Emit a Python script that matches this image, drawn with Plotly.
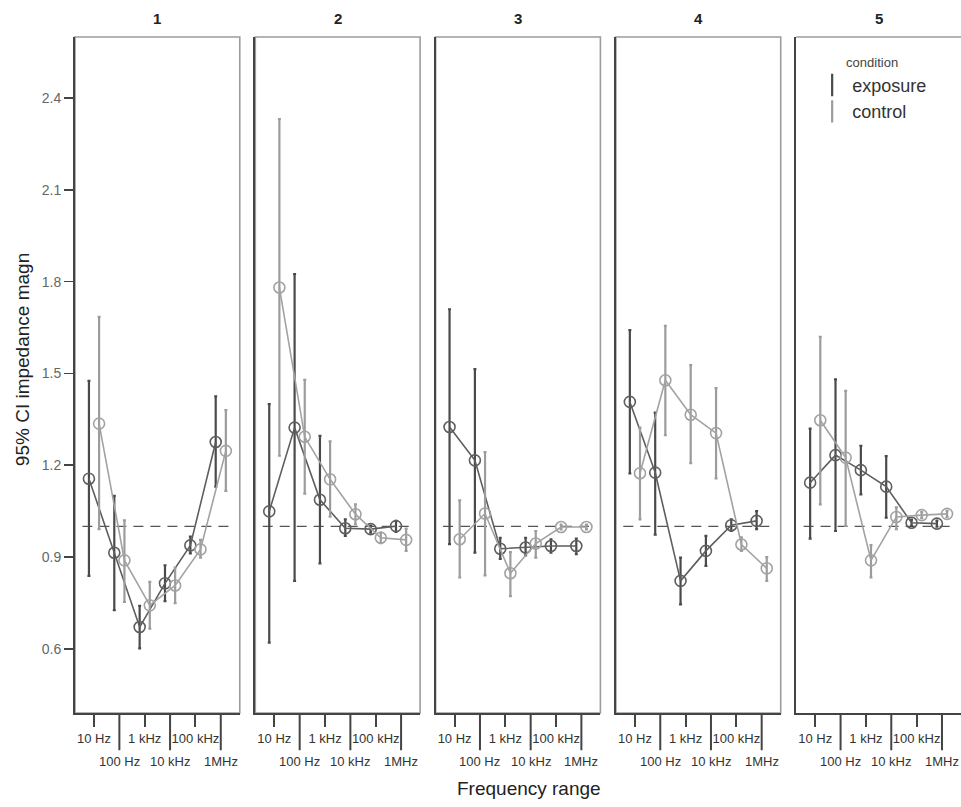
import plotly.graph_objects as go

# ---------------- data ----------------
categories = ["10 Hz", "100 Hz", "1 kHz", "10 kHz", "100 kHz", "1MHz"]
panel_titles = ["1", "2", "3", "4", "5"]
conditions = ["exposure", "control"]
y_ticks = [0.6, 0.9, 1.2, 1.5, 1.8, 2.1, 2.4]
reference_value = 1.0

exposure_mean = [
    [1.156, 0.914, 0.671, 0.814, 0.938, 1.276],
    [1.049, 1.323, 1.087, 0.994, 0.991, 1.001],
    [1.325, 1.216, 0.927, 0.931, 0.936, 0.936],
    [1.407, 1.176, 0.822, 0.920, 1.004, 1.018],
    [1.143, 1.233, 1.184, 1.130, 1.012, 1.009],
]
exposure_low = [
    [0.838, 0.726, 0.601, 0.756, 0.912, 1.130],
    [0.620, 0.822, 0.879, 0.969, 0.980, 0.982],
    [0.942, 0.914, 0.894, 0.905, 0.914, 0.909],
    [1.173, 0.973, 0.745, 0.871, 0.985, 0.991],
    [0.960, 0.985, 1.105, 1.029, 1.002, 0.999],
]
exposure_high = [
    [1.476, 1.100, 0.740, 0.873, 0.967, 1.425],
    [1.400, 1.825, 1.296, 1.023, 1.002, 1.018],
    [1.710, 1.514, 0.963, 0.963, 0.958, 0.960],
    [1.642, 1.372, 0.898, 0.969, 1.023, 1.050],
    [1.320, 1.481, 1.263, 1.230, 1.022, 1.019],
]
control_mean = [
    [1.336, 0.889, 0.742, 0.807, 0.925, 1.247],
    [1.781, 1.293, 1.154, 1.040, 0.963, 0.956],
    [0.958, 1.042, 0.847, 0.944, 0.998, 0.998],
    [1.174, 1.478, 1.365, 1.305, 0.941, 0.863],
    [1.347, 1.225, 0.889, 1.031, 1.037, 1.041],
]
control_low = [
    [0.991, 0.753, 0.666, 0.749, 0.898, 1.116],
    [1.231, 1.107, 1.032, 1.007, 0.945, 0.920],
    [0.833, 0.840, 0.772, 0.898, 0.990, 0.990],
    [1.023, 1.298, 1.207, 1.157, 0.920, 0.822],
    [1.072, 1.002, 0.833, 0.991, 1.027, 1.031],
]
control_high = [
    [1.685, 1.020, 0.819, 0.865, 0.956, 1.380],
    [2.332, 1.479, 1.278, 1.072, 0.980, 0.993],
    [1.085, 1.243, 0.916, 0.985, 1.006, 1.006],
    [1.323, 1.656, 1.527, 1.452, 0.964, 0.900],
    [1.620, 1.443, 0.939, 1.062, 1.047, 1.051],
]

# ---------------- style ----------------
EXP_COLOR = "#5e5e5e"
EXP_BAR = "#4a4a4a"
CTL_COLOR = "#a2a2a2"
CTL_BAR = "#9c9c9c"
AXIS_COLOR = "#444444"
FRAME_COLOR = "#9c9c9c"
FONT = "Liberation Sans, Arial, sans-serif"

PANEL_W = 0.186
PANEL_GAP = 0.0175

fig = go.Figure()

layout_axes = {}
shapes = []
annotations = []

series = [
    ("exposure", exposure_mean, exposure_low, exposure_high, EXP_COLOR, EXP_BAR),
    ("control", control_mean, control_low, control_high, CTL_COLOR, CTL_BAR),
]

for i in range(len(panel_titles)):
    n = "" if i == 0 else str(i + 1)
    xa, ya = f"x{n}", f"y{n}"
    d0 = i * (PANEL_W + PANEL_GAP)
    d1 = min(1.0, d0 + PANEL_W)

    for name, mean, low, high, col, barcol in series:
        m = mean[i]
        plus = [h - v for h, v in zip(high[i], m)]
        minus = [v - l for v, l in zip(m, low[i])]
        fig.add_trace(go.Scatter(
            x=categories, y=m, xaxis=xa, yaxis=ya,
            mode="lines+markers", name=name, showlegend=False,
            offsetgroup=name, alignmentgroup="g",
            line=dict(color=col, width=1.6),
            marker=dict(symbol="circle-open", size=11, color=col,
                        line=dict(width=1.6, color=col)),
            error_y=dict(type="data", array=plus, arrayminus=minus,
                         symmetric=False, color=barcol, thickness=2.2, width=1.5),
            hoverinfo="skip",
        ))

    layout_axes[f"xaxis{n}"] = dict(
        domain=[d0, d1], anchor=ya, type="category",
        categoryorder="array", categoryarray=categories,
        range=[-0.75, 5.75],
        tickmode="array", tickvals=categories[0::2], ticktext=categories[0::2],
        ticks="outside", ticklen=12, tickwidth=2, tickcolor=AXIS_COLOR,
        showline=True, linecolor=AXIS_COLOR, linewidth=2,
        showgrid=False, zeroline=False,
        tickfont=dict(size=13, color="#333333", family=FONT),
    )
    layout_axes[f"yaxis{n}"] = dict(
        domain=[0, 1], anchor=xa, range=[0.39, 2.6],
        tickmode="array", tickvals=y_ticks, ticktext=[f"{v:.1f}" for v in y_ticks],
        ticks="outside" if i == 0 else "", ticklen=9, tickwidth=1.5, tickcolor=AXIS_COLOR,
        showticklabels=(i == 0),
        showline=True, linecolor=AXIS_COLOR, linewidth=2,
        showgrid=False, zeroline=False,
        tickfont=dict(size=14, color="#666666", family=FONT),
    )

    # panel frame (light grey top/right)
    if i < len(panel_titles) - 1:
        shapes.append(dict(type="rect", xref=f"{xa} domain", yref=f"{ya} domain",
                           x0=0, x1=1, y0=0, y1=1, layer="below",
                           line=dict(color=FRAME_COLOR, width=1.6)))
    else:
        shapes.append(dict(type="line", xref=f"{xa} domain", yref=f"{ya} domain",
                           x0=0, x1=1, y0=1, y1=1, layer="below",
                           line=dict(color=FRAME_COLOR, width=1.6)))

    # reference dashed line
    shapes.append(dict(type="line", xref=f"{xa} domain", yref=ya,
                       x0=0.045, x1=0.955, y0=reference_value, y1=reference_value,
                       layer="below", line=dict(color="#555555", width=1.2, dash="10px,7px")))

    # long ticks + second-row labels
    for c in categories[1::2]:
        shapes.append(dict(type="line", xref=xa, yref=f"{ya} domain",
                           x0=c, x1=c, y0=0, y1=-0.055,
                           line=dict(color=AXIS_COLOR, width=2)))
        annotations.append(dict(xref=xa, yref=f"{ya} domain", x=c, y=0,
                                yshift=-48, yanchor="middle", xanchor="center",
                                showarrow=False, text=c,
                                font=dict(size=13, color="#333333", family=FONT)))

    # facet title
    annotations.append(dict(xref=f"{xa} domain", yref="paper", x=0.5, y=1,
                            yshift=19, yanchor="middle", xanchor="center",
                            showarrow=False, text=f"<b>{panel_titles[i]}</b>",
                            font=dict(size=15, color="#222222", family=FONT)))

# legend-only traces
for name, col in [("exposure", EXP_BAR), ("control", CTL_BAR)]:
    fig.add_trace(go.Scatter(
        x=[None], y=[None], mode="markers", name=name, showlegend=True,
        xaxis="x5", yaxis="y5",
        marker=dict(symbol="line-ns", size=20, color=col, line=dict(width=2.2, color=col)),
    ))

annotations.append(dict(xref="paper", yref="paper", x=0.512, y=-0.111,
                        xanchor="center", yanchor="middle", showarrow=False,
                        text="Frequency range",
                        font=dict(size=19, color="#222222", family=FONT)))
annotations.append(dict(xref="paper", yref="paper", x=-0.0598, y=0.522,
                        xanchor="center", yanchor="middle", showarrow=False,
                        textangle=-90, text="95% CI impedance magn",
                        font=dict(size=19, color="#222222", family=FONT)))

fig.update_layout(
    width=961, height=807,
    margin=dict(l=75, r=0, t=37, b=94),
    paper_bgcolor="white", plot_bgcolor="white",
    scattermode="group", scattergap=0.2,
    font=dict(family=FONT),
    shapes=shapes, annotations=annotations,
    legend=dict(x=0.832, y=0.981, xanchor="left", yanchor="top",
                bgcolor="rgba(0,0,0,0)",
                title=dict(text="condition", side="top center",
                           font=dict(size=13, color="#444444", family=FONT)),
                font=dict(size=18, color="#333333", family=FONT),
                itemsizing="trace"),
    **layout_axes,
)

fig.write_html(
    "out.html",
    config={"displayModeBar": False, "staticPlot": True},
    post_script="document.body.style.margin='0';document.body.style.overflow='hidden';",
)
